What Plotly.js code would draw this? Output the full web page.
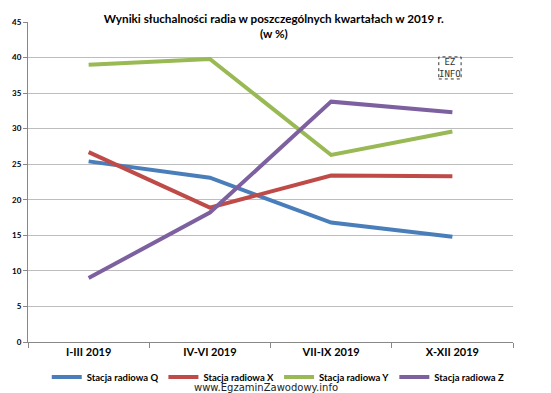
<!DOCTYPE html>
<html><head><meta charset="utf-8">
<script src="https://cdn.plot.ly/plotly-3.0.1.min.js"></script>
<style>html,body{margin:0;padding:0;background:#fff}#c{width:551px;height:393px}</style>
</head><body><div id="c"></div>
<script>
const categories = ["I-III 2019", "IV-VI 2019", "VII-IX 2019", "X-XII 2019"];
const seriesNames = ["Stacja radiowa Q", "Stacja radiowa X", "Stacja radiowa Y", "Stacja radiowa Z"];
const stacjaQ = [25.4, 23.1, 16.8, 14.8];
const stacjaX = [26.7, 18.9, 23.4, 23.3];
const stacjaY = [39.0, 39.8, 26.3, 29.6];
const stacjaZ = [9.0, 18.2, 33.8, 32.3];
const colors = ["#4A7EBB", "#BE4B48", "#98B954", "#7D60A0"];
const allSeries = [stacjaQ, stacjaX, stacjaY, stacjaZ];

const FONT = "Lato, 'Open Sans', sans-serif";
const traces = allSeries.map((v, i) => ({
  x: categories, y: v, type: "scatter", mode: "lines", name: seriesNames[i],
  line: {color: colors[i], width: 4}
}));

const layout = {
  width: 551, height: 393,
  margin: {l: 28, r: 38, t: 22, b: 51, autoexpand: false},
  paper_bgcolor: "#fff", plot_bgcolor: "#fff",
  showlegend: true,
  legend: {orientation: "h", xref: "container", yref: "container", x: 0.505, xanchor: "center",
    y: 0.041, yanchor: "middle",
    font: {family: FONT, size: 9.5, color: "#000", weight: "bold"}, itemwidth: 30, tracegroupgap: 0},
  title: {text: "<b>Wyniki słuchalności radia w poszczególnych kwartałach w 2019 r.<br>(w %)</b>",
    xref: "container", yref: "container", x: 0.497, xanchor: "center", y: 0.942, yanchor: "middle",
    font: {family: FONT, size: 11.7, color: "#000"}},
  xaxis: {type: "category", range: [-0.5, 3.5], showgrid: false, showline: true, linecolor: "#888",
    ticks: "outside", ticklen: 5, tickcolor: "#888", tickson: "boundaries",
    tickfont: {family: FONT, size: 11, color: "#000", weight: "bold"}, zeroline: false},
  yaxis: {range: [0, 45], dtick: 5, showgrid: true, gridcolor: "#BDBDBD", gridwidth: 1,
    showline: true, linecolor: "#888", ticks: "outside", ticklen: 4, tickcolor: "#888",
    tickfont: {family: FONT, size: 8, color: "#000", weight: "bold"}, zeroline: false},
  shapes: [{type: "rect", xref: "paper", yref: "paper", x0: 0.847, x1: 0.893, y0: 0.822, y1: 0.891,
    line: {color: "#333", width: 1, dash: "dot"}}],
  annotations: [
    {text: "www.EgzaminZawodowy.info", xref: "paper", yref: "paper", x: 0.49, y: -0.142,
     xanchor: "center", yanchor: "middle", showarrow: false,
     font: {family: "'DejaVu Sans', sans-serif", size: 10, color: "#222"}},
    {text: "EZ<br>INFO", xref: "paper", yref: "paper", x: 0.87, y: 0.8565, xanchor: "center", yanchor: "middle",
     showarrow: false, font: {family: "'DejaVu Sans Mono', monospace", size: 9, color: "#333"}}
  ]
};
Plotly.newPlot("c", traces, layout, {displayModeBar: false, staticPlot: true});
</script></body></html>
